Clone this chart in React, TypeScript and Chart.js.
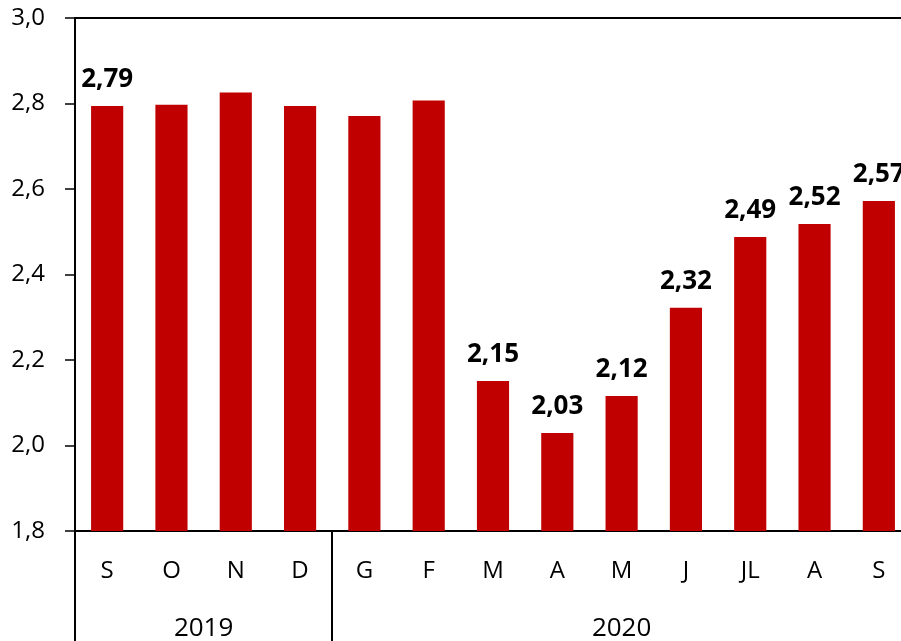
import { useEffect, useRef } from 'react';
import { Chart, registerables } from 'chart.js';

Chart.register(...registerables);

const months = ['S', 'O', 'N', 'D', 'G', 'F', 'M', 'A', 'M', 'J', 'JL', 'A', 'S'];
const years = ['2019', '2019', '2019', '2019', '2020', '2020', '2020', '2020', '2020', '2020', '2020', '2020', '2020'];
const values = [2.794, 2.797, 2.826, 2.794, 2.771, 2.807, 2.151, 2.029, 2.116, 2.322, 2.488, 2.518, 2.572];
const showValue = [true, false, false, false, false, false, true, true, true, true, true, true, true];
const yMin = 1.8;
const yMax = 3.0;
const yStep = 0.2;

const FONT = '"Open Sans", "Noto Sans", sans-serif';
const fmt = (v: number, d: number) => v.toFixed(d).replace('.', ',');

const overlay = {
  id: 'overlay',
  afterDatasetsDraw(chart: any) {
    const ctx = chart.ctx;
    const meta = chart.getDatasetMeta(0);
    ctx.save();
    ctx.fillStyle = '#000';
    ctx.textAlign = 'center';
    ctx.textBaseline = 'alphabetic';
    ctx.font = `bold 26px ${FONT}`;
    meta.data.forEach((bar: any, i: number) => {
      if (!showValue[i]) return;
      ctx.fillText(fmt(values[i], 2), bar.x, bar.y - 19);
    });

    const xs = chart.scales.x;
    const area = chart.chartArea;
    const step = xs.getPixelForValue(1) - xs.getPixelForValue(0);
    const groups: { name: string; start: number; end: number }[] = [];
    years.forEach((y, i) => {
      const g = groups[groups.length - 1];
      if (g && g.name === y) g.end = i;
      else groups.push({ name: y, start: i, end: i });
    });
    ctx.strokeStyle = '#000';
    ctx.lineWidth = 2;
    ctx.font = `26px ${FONT}`;
    groups.forEach((g) => {
      const x0 = xs.getPixelForValue(g.start) - step / 2;
      const x1 = xs.getPixelForValue(g.end) + step / 2;
      [x0, x1].forEach((lx) => {
        const px = Math.round(lx);
        ctx.beginPath();
        ctx.moveTo(px, area.bottom);
        ctx.lineTo(px, chart.height);
        ctx.stroke();
      });
      const cx = (xs.getPixelForValue(g.start) + xs.getPixelForValue(g.end)) / 2;
      ctx.fillText(g.name, cx, 636);
    });
    ctx.restore();
  },
};

export default function App() {
  const ref = useRef<HTMLCanvasElement | null>(null);
  useEffect(() => {
    if (!ref.current) return;
    const chart = new Chart(ref.current, {
      type: 'bar',
      data: {
        labels: months,
        datasets: [
          {
            data: values,
            backgroundColor: '#C00000',
            barPercentage: 0.5,
            categoryPercentage: 1,
          },
        ],
      },
      options: {
        responsive: false,
        animation: false,
        devicePixelRatio: 1,
        layout: { padding: { top: 18, right: 29, left: 0, bottom: 0 } },
        plugins: { legend: { display: false }, tooltip: { enabled: false } },
        scales: {
          x: {
            grid: { display: false, drawTicks: false },
            border: { display: true, color: '#000', width: 2 },
            ticks: {
              color: '#000',
              font: { family: FONT, size: 24 },
              padding: 26,
              maxRotation: 0,
              autoSkip: false,
            },
            afterFit: (s: any) => {
              s.height = 130;
              s.paddingLeft = 0;
              s.paddingRight = 0;
            },
          },
          y: {
            min: yMin,
            max: yMax,
            grid: {
              color: (c: any) => (Math.abs(c.tick.value - yMax) < 1e-6 ? '#000' : 'rgba(0,0,0,0)'),
              lineWidth: 2,
              tickColor: '#000',
              tickLength: 10,
              tickWidth: 1.5,
            },
            border: { display: true, color: '#000', width: 2 },
            ticks: {
              stepSize: yStep,
              color: '#000',
              font: { family: FONT, size: 24 },
              padding: 20,
              callback: (v: any) => fmt(Number(v), 1),
            },
            afterFit: (s: any) => {
              s.width = 75;
              s.paddingTop = 0;
              s.paddingBottom = 0;
            },
          },
        },
      },
      plugins: [overlay],
    });
    return () => chart.destroy();
  }, []);
  return (
    <div style={{ position: 'fixed', left: 0, top: 0, width: 901, height: 641, overflow: 'hidden', background: '#fff' }}>
      <canvas ref={ref} width={940} height={661} style={{ width: 940, height: 661, display: 'block' }} />
    </div>
  );
}
